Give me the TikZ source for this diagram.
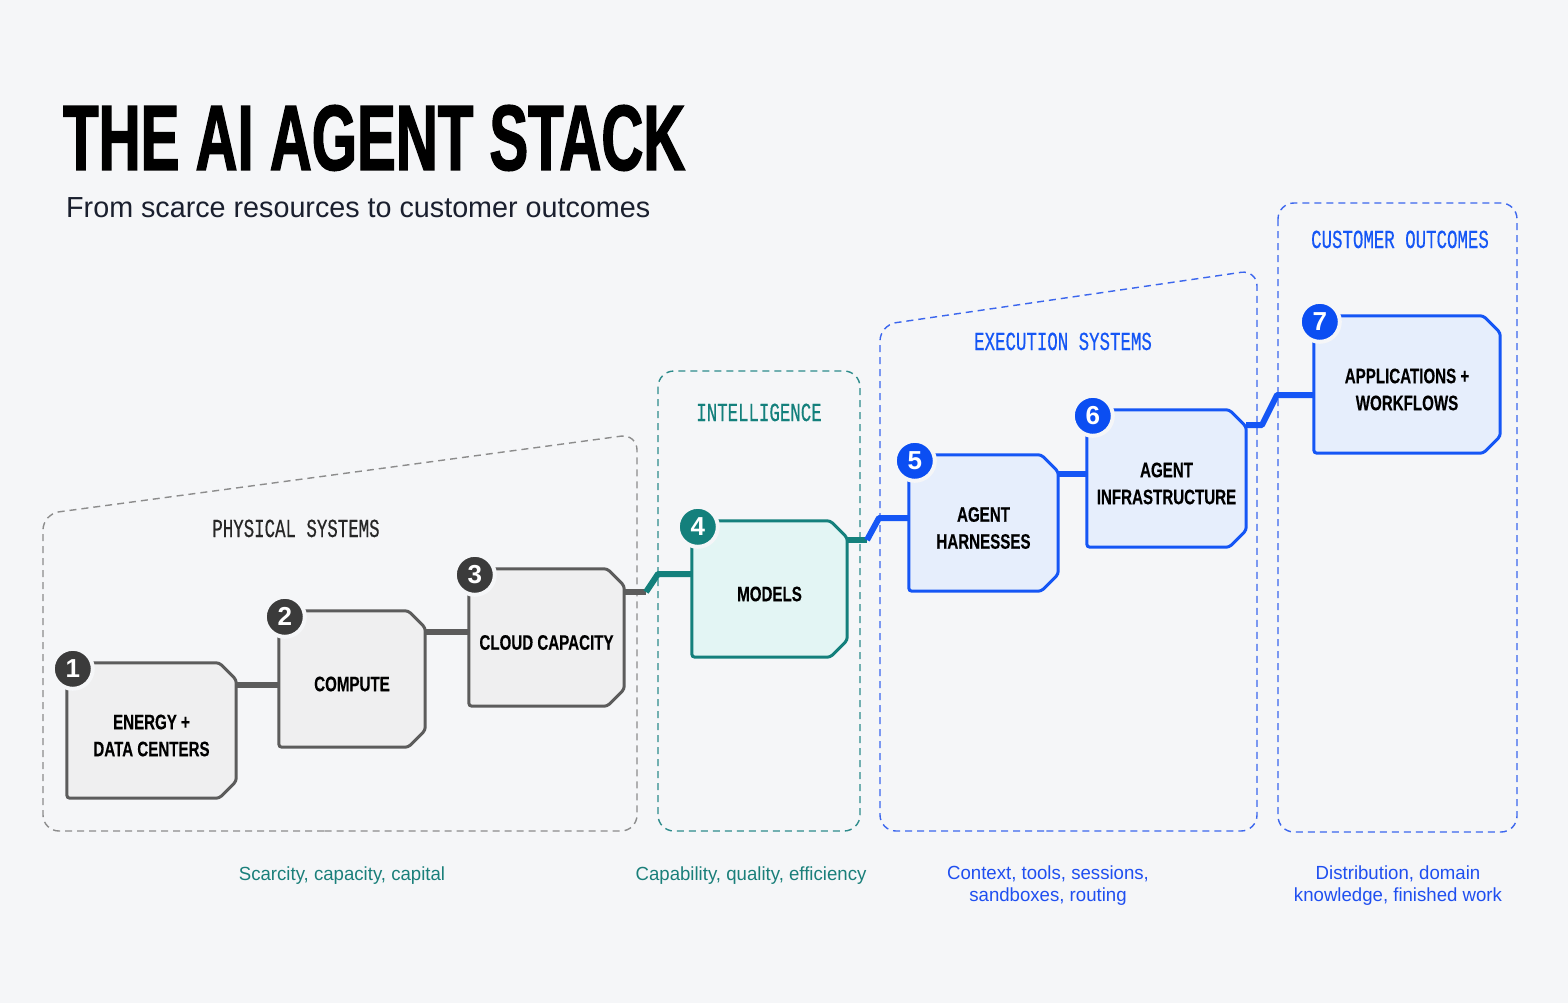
\documentclass[tikz,border=0pt]{standalone}
\usepackage{fontspec}
\setmainfont{Liberation Sans}
\newfontfamily\titlef[FakeStretch=0.625,FakeBold=1.4]{Liberation Sans}
\newfontfamily\nodef[FakeStretch=0.72,FakeBold=0.3]{Liberation Sans}
\newfontfamily\monof[FakeStretch=0.67,FakeBold=0.4]{Liberation Mono}
\newfontfamily\subf[FakeStretch=0.99]{Liberation Sans}
\newfontfamily\capf[FakeStretch=0.98]{Liberation Sans}
\definecolor{bg}{HTML}{F5F6F8}
\definecolor{gs}{HTML}{5C5C5C}
\definecolor{gf}{HTML}{EFEFF0}
\definecolor{gb}{HTML}{3B3B3B}
\definecolor{ts}{HTML}{14807C}
\definecolor{tf}{HTML}{E3F5F4}
\definecolor{tb}{HTML}{14807C}
\definecolor{bs}{HTML}{1556F5}
\definecolor{bf}{HTML}{E6EEFC}
\definecolor{bb}{HTML}{0B4EF2}
\definecolor{dgray}{HTML}{8C8C8C}
\definecolor{dteal}{HTML}{2D8B8B}
\definecolor{dblue}{HTML}{3B66EE}
\definecolor{capteal}{HTML}{1A7F7A}
\definecolor{capblue}{HTML}{1F4FF0}
\definecolor{subc}{HTML}{1A1F2E}
\tikzset{
  grp/.style={line width=1.4pt, dash pattern=on 7pt off 5pt, rounded corners=16pt},
  conn/.style={line width=6pt, line join=round},
  sectlabel/.style={font=\monof\fontsize{26}{26}\selectfont, anchor=base, inner sep=0pt},
  caption/.style={font=\capf\fontsize{19}{22}\selectfont, align=center, anchor=base, inner sep=0pt},
}
\newcommand\stackbox[8]{%
  \node[minimum width=#4pt, minimum height=#5pt, inner sep=0pt] (#1) at (#2,#3) {};
  \draw[line width=3pt, draw=#6s, fill=#6f, rounded corners=3pt]
    ([xshift=-17pt]#1.north east) -- ([yshift=-17pt]#1.north east) --
    ([yshift=17pt]#1.south east) -- ([xshift=-17pt]#1.south east) --
    (#1.south west) -- (#1.north west) -- cycle;
  \node[font=\nodef\bfseries\fontsize{21}{27}\selectfont, align=center, inner sep=0pt] (#1t) at ([yshift=-5pt]#1.center) {#8};
  \node[circle, fill=#6b, draw=bg, line width=4pt, minimum size=40pt, inner sep=0pt, text=white,
        font=\bfseries\fontsize{26}{26}\selectfont] (#1b) at ([xshift=6pt,yshift=-6pt]#1.north west) {#7};
}
\begin{document}
\begin{tikzpicture}[x=1pt,y=-1pt]
\fill[bg] (0,0) rectangle (1568,1003);
\useasboundingbox (0,0) rectangle (1568,1003);

% title
\node[anchor=base west, inner sep=0pt, font=\titlef\bfseries\fontsize{93}{93}\selectfont] (title) at (63,170) {THE AI AGENT STACK};
\node[anchor=base west, inner sep=0pt, text=subc, font=\subf\fontsize{29}{29}\selectfont] (subtitle) at (66,218) {From scarce resources to customer outcomes};

% groups
\draw[grp, dgray] (340,831) -- (43,831) -- (43,514) -- (637,434) -- (637,831) -- cycle;
\draw[grp, dteal] (658,371) rectangle (860,831);
\draw[grp, dblue] (1060,831) -- (880,831) -- (880,325) -- (1257,270) -- (1257,831) -- cycle;
\draw[grp, dblue] (1278,203) rectangle (1517,832);

\node[sectlabel, text=black!85] (lphys) at (296,537) {PHYSICAL SYSTEMS};
\node[sectlabel, text=ts] (lint) at (759,421) {INTELLIGENCE};
\node[sectlabel, text=bs] (lexe) at (1063,350) {EXECUTION SYSTEMS};
\node[sectlabel, text=bs] (lcus) at (1400,248) {CUSTOMER OUTCOMES};

% boxes
\stackbox{n1}{151.5}{730.5}{169}{135}{g}{1}{ENERGY +\\DATA CENTERS}
\stackbox{n2}{352}{679}{146}{136}{g}{2}{COMPUTE}
\stackbox{n3}{546.5}{637.5}{155}{137}{g}{3}{CLOUD CAPACITY}
\stackbox{n4}{769.5}{589}{155}{136}{t}{4}{MODELS}
\stackbox{n5}{983.5}{523}{149}{136}{b}{5}{AGENT\\HARNESSES}
\stackbox{n6}{1166.5}{478.5}{159}{137}{b}{6}{AGENT\\INFRASTRUCTURE}
\stackbox{n7}{1407}{384.5}{186}{137}{b}{7}{APPLICATIONS +\\WORKFLOWS}

% connectors
\coordinate (k3) at (646,592);
\coordinate (k4) at (867,540);
\draw[conn, gs] (n1.east |- 0,685) -- (n2.west |- 0,685);
\draw[conn, gs] (n2.east |- 0,632) -- (n3.west |- 0,632);
\draw[conn, gs] (n3.east |- k3) -- (k3);
\draw[conn, ts] (k3) -- (658,574) -- (n4.west |- 0,574);
\draw[conn, ts] (n4.east |- k4) -- (k4);
\draw[conn, bs] (k4) -- (879,518) -- (n5.west |- 0,518);
\draw[conn, bs] (n5.east |- 0,474) -- (n6.west |- 0,474);
\draw[conn, bs] (n6.east |- 0,425) -- (1262,425) -- (1277,395) -- (n7.west |- 0,395);

% captions
\node[caption, text=capteal] (c1) at (342,880) {Scarcity, capacity, capital};
\node[caption, text=capteal] (c2) at (751,880) {Capability, quality, efficiency};
\node[caption, text=capblue, anchor=north] (c3) at (1048,866) {Context, tools, sessions,\\sandboxes, routing};
\node[caption, text=capblue, anchor=north] (c4) at (1398,866) {Distribution, domain\\knowledge, finished work};
\end{tikzpicture}
\end{document}
